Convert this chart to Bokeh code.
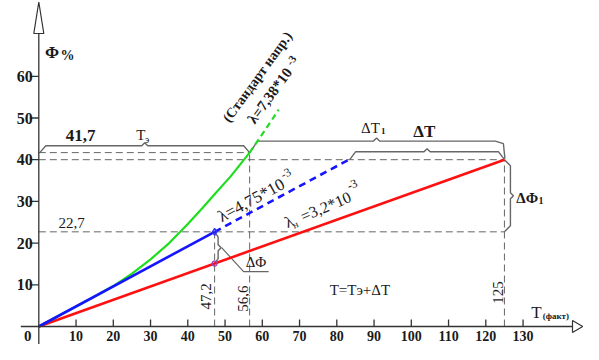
import math
from bokeh.plotting import figure
from bokeh.models import Range1d
from bokeh.embed import file_html
from bokeh.resources import INLINE
from bokeh.core.properties import value

# ---------------- data ----------------
x_ticks = [10, 20, 30, 40, 50, 60, 70, 80, 90, 100, 110, 120, 130]
y_ticks = [10, 20, 30, 40, 50, 60]
x_tick_labels = [str(v) for v in x_ticks]
y_tick_labels = [str(v) for v in y_ticks]

T_e = 56.6      # Tэ
T_b = 47.2
T_n = 125.0
phi_e = 41.7
phi_b = 22.7
phi_n = 40.0
phi_rb = 15.1   # red line at T_b

red_T = [0, 125.0]
red_phi = [0, 40.0]
blue_T = [0, 47.2]
blue_phi = [0, 22.7]
blue_ext_T = [47.2, 83.2]
blue_ext_phi = [22.7, 40.0]
green_T = [0, 5, 10, 15, 20, 25, 30, 35, 40, 44, 47.2, 51.5, 56.6]
green_phi = [0, 2.4, 4.8, 7.2, 9.7, 12.7, 16.1, 20.0, 24.6, 28.5, 31.7, 36.0, 41.7]
green_ext_T = [56.6, 60.5, 64.4]
green_ext_phi = [41.7, 46.8, 52.0]

# ---------------- layout ----------------
W, H = 583, 344
SX, SY = 3.725, 4.17          # px per data unit
OX, OY = 38.3, 18.0           # origin offset in canvas px (from left / bottom)
FONT = value("Liberation Serif")
GRAY = "#666666"
INK = "#1a1a1a"


def px(n):
    return n / SX


def py(n):
    return n / SY


p = figure(width=W, height=H,
           x_range=Range1d(-OX / SX, (W - OX) / SX),
           y_range=Range1d(-OY / SY, (H - OY) / SY),
           x_axis_type=None, y_axis_type=None,
           toolbar_location=None, output_backend="svg",
           min_border=0, outline_line_color=None,
           background_fill_color="white", border_fill_color="white")

x_end = p.x_range.end
y_end = p.y_range.end

# ---------------- dashed guides ----------------
dash = dict(line_color=GRAY, line_width=1, line_dash="7 4")
p.line([0, T_e], [phi_e, phi_e], **dash)
p.line([0, T_n], [phi_n, phi_n], **dash)
p.line([0, T_n], [phi_b, phi_b], **dash)
p.line([T_b, T_b], [0, phi_b], **dash)
p.line([T_e, T_e], [0, phi_e], **dash)
p.line([T_n, T_n], [0, phi_n], **dash)

# ---------------- braces ----------------
br = dict(line_color=GRAY, line_width=1.4)


def hbrace(xa, ya, xb, yb, lev, cap=6.0, bump=3.0):
    xm = (xa + xb) / 2
    xs = [xa, xa + px(cap), xm - px(bump), xm, xm + px(bump), xb - px(cap), xb]
    ys = [ya, lev, lev, lev + py(bump), lev, lev, yb]
    return xs, ys


def vbrace(xa, ya, yb, lev, cap=6.0, bump=3.0):
    ym = (ya + yb) / 2
    xs = [xa, lev, lev, lev + px(bump), lev, lev, xa]
    ys = [ya, ya - py(cap), ym + py(bump), ym, ym - py(bump), yb + py(cap), yb]
    return xs, ys


xs, ys = hbrace(px(1), phi_e, T_e, phi_e, phi_e + py(6.8))
p.line(xs, ys, **br)

xs, ys = hbrace(T_e, phi_e, T_n - px(1), phi_n + py(16), phi_e + py(11.5), cap=8)
xs += [T_n + px(0.5)]
ys += [phi_n + py(1)]
p.line(xs, ys, **br)

xs, ys = hbrace(blue_ext_T[-1] + px(1), phi_n, T_n, phi_n, phi_n + py(8))
p.line(xs, ys, **br)

xs, ys = vbrace(T_n, phi_n, phi_b, T_n + px(6))
p.line(xs, ys, **br)

xs, ys = vbrace(T_b, phi_b, phi_rb, T_b + px(3.5), cap=5.0, bump=3.0)
p.line(xs, ys, **br)
mid_e = (phi_b + phi_rb) / 2
p.line([T_b + px(7), T_b + px(29), T_b + px(54)],
       [mid_e, mid_e - py(24), mid_e - py(24)], line_color=GRAY, line_width=1.2)

# ---------------- series ----------------
p.line(red_T, red_phi, line_color="#ff1010", line_width=2.6)
p.line(green_T, green_phi, line_color="#1fdd1f", line_width=2.2)
p.line(blue_T, blue_phi, line_color="#1515ff", line_width=2.6)
p.line(blue_ext_T, blue_ext_phi, line_color="#1515ff", line_width=2.6, line_dash="7 5")
p.line(green_ext_T, green_ext_phi, line_color="#1fdd1f", line_width=2.2, line_dash="6 4")
p.scatter([T_b], [phi_b], marker="diamond", size=7, fill_color=None, line_color="#3030ff", line_width=1.2)
p.scatter([T_b], [phi_rb], marker="circle", size=5, fill_color=None, line_color="#a040c0", line_width=1.2)

# ---------------- axes ----------------
ax = dict(line_color="#333333", line_width=1.3)
xa_base = x_end - px(11)
ya_base = y_end - py(33)
p.line([-px(18), xa_base], [0, 0], **ax)
p.line([0, 0], [p.y_range.start, ya_base], **ax)
p.patch([xa_base, x_end - px(0.8), xa_base], [py(6), 0, -py(6)],
        fill_color="white", line_color="#333333", line_width=1.2)
p.patch([-px(5), 0, px(5)], [ya_base, y_end - py(1.5), ya_base],
        fill_color="white", line_color="#333333", line_width=1.2)
p.segment(x0=x_ticks, y0=[0] * len(x_ticks), x1=x_ticks, y1=[py(7)] * len(x_ticks), **ax)
p.segment(x0=[-px(9)] * len(y_ticks), y0=y_ticks, x1=[0] * len(y_ticks), y1=y_ticks, **ax)

p.text(x=x_ticks, y=[-py(9.5)] * len(x_ticks), text=x_tick_labels,
       text_font=FONT, text_font_size="14px", text_font_style="bold",
       text_align="center", text_baseline="middle", text_color=INK)
p.text(x=[-px(6)] * len(y_ticks), y=y_ticks, text=y_tick_labels,
       text_font=FONT, text_font_size="16px", text_font_style="bold",
       text_align="right", text_baseline="middle", text_color=INK)
p.text(x=[-px(11)], y=[-py(9.5)], text=["0"], text_font=FONT, text_font_size="15px",
       text_font_style="bold", text_align="center", text_baseline="middle", text_color=INK)


def txt(x, y, s, size, bold=False, align="center", ang=0.0):
    p.text(x=[x], y=[y], text=[s], text_font=FONT, text_font_size=f"{size}px",
           text_font_style="bold" if bold else "normal", text_align=align,
           text_baseline="middle", angle=ang, text_color=INK)


# axis titles
txt(3.54, 65.6, "Φ", 17, bold=True)
txt(7.7, 65.0, "%", 14, bold=True)
txt(133.6, 3.3, "T", 17)
txt(138.8, 2.4, "(факт)", 9, bold=True)

# top labels
txt(11.2, 45.7, "41,7", 17, bold=True)
txt(27.4, 46.0, "T", 15)
txt(29.1, 44.75, "э", 10)
txt(89.05, 47.6, "ΔT", 15)
txt(92.5, 46.8, "1", 9, bold=True)
txt(103.5, 46.8, "ΔT", 17, bold=True)

# value labels
txt(8.8, 24.9, "22,7", 15)
txt(45.0, 7.2, "47,2", 15, ang=math.pi / 2)
txt(54.7, 6.7, "56,6", 15, ang=math.pi / 2)
txt(123.4, 8.15, "125", 15, ang=math.pi / 2)

txt(131.1, 30.8, "ΔΦ", 15, bold=True)
txt(134.8, 30.2, "1", 10, bold=True)
txt(58.3, 15.5, "ΔΦ", 15)
txt(86.2, 8.75, "T=Tэ+ΔT", 15)

# slope labels
ang_b = math.radians(28.5)
txt(48.4, 26.1, "λ=4,75*10", 17, align="left", ang=ang_b)
txt(65.1, 36.2, "-3", 12, align="left", ang=ang_b)

ang_r = math.radians(23)
txt(66.2, 24.8, "λ", 16, align="left", ang=ang_r)
txt(68.2, 24.2, "н", 10, align="left", ang=ang_r)
txt(70.5, 26.3, "=3,2*10", 16, align="left", ang=ang_r)
txt(82.9, 33.6, "-3", 12, align="left", ang=ang_r)

ang_g = math.radians(54)
txt(50.2, 49.4, "(Стандарт напр.)", 14, bold=True, align="left", ang=ang_g)
txt(56.9, 49.1, "λ=7,38*10", 15, bold=True, align="left", ang=ang_g)
txt(67.1, 62.9, "-3", 11, bold=True, align="left", ang=ang_g)

open("out.html", "w").write(file_html(p, INLINE))
